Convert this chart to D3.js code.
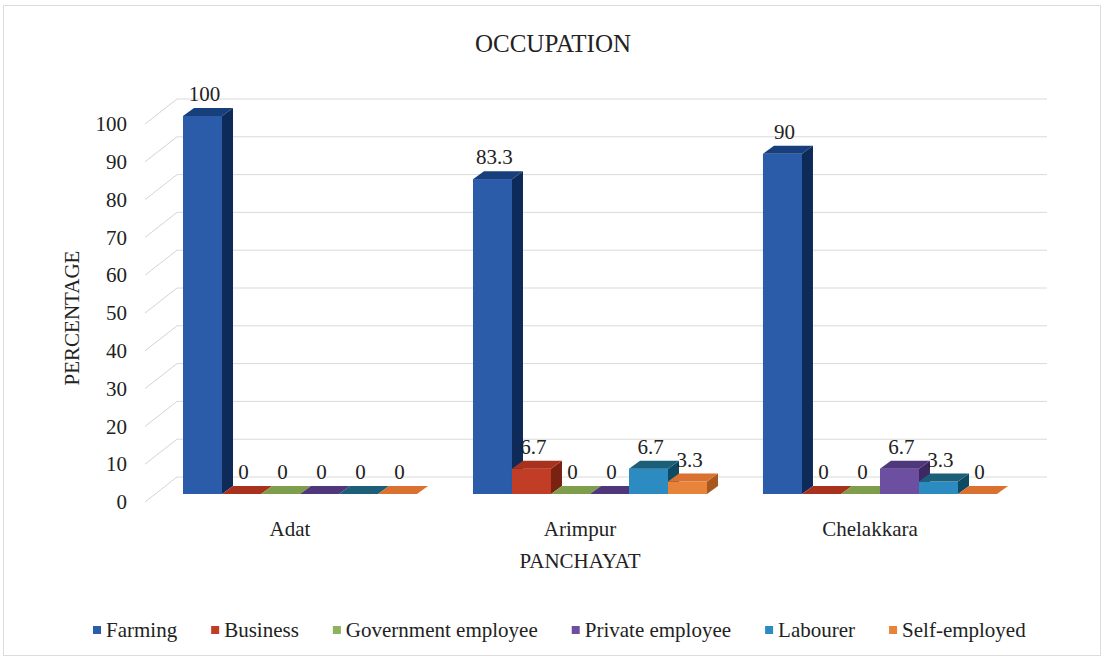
<!DOCTYPE html>
<html>
<head>
<meta charset="utf-8">
<script src="https://cdn.jsdelivr.net/npm/d3@7/dist/d3.min.js"></script>
<style>
  html, body { margin: 0; padding: 0; background: #ffffff; }
  svg { display: block; }
  svg text { font-family: "Liberation Serif", "Times New Roman", Tinos, "DejaVu Serif", serif; fill: #222; }
</style>
</head>
<body>
<svg id="chart" width="1104" height="661"></svg>
<script>
// Occupation shares (%) by panchayat
const categories = ["Adat", "Arimpur", "Chelakkara"];
const seriesNames = ["Farming", "Business", "Government employee", "Private employee", "Labourer", "Self-employed"];
const farming = [100, 83.3, 90];
const business = [0, 6.7, 0];
const government = [0, 0, 0];
const privateEmployee = [0, 0, 6.7];
const labourer = [0, 6.7, 3.3];
const selfEmployed = [0, 3.3, 0];
const yTicks = [0, 10, 20, 30, 40, 50, 60, 70, 80, 90, 100];

const seriesValues = [farming, business, government, privateEmployee, labourer, selfEmployed];

const FONT = "'Liberation Serif', 'Times New Roman', Tinos, 'DejaVu Serif', serif";

// front, side and top face shades for each series
const faceColors = [
  { front: "#2B5CA9", side: "#0E2A58", top: "#173F7C" },
  { front: "#C23D26", side: "#7A2212", top: "#A8321E" },
  { front: "#8FB15C", side: "#5C7837", top: "#7E9E4C" },
  { front: "#6C4FA1", side: "#3D2863", top: "#4F377C" },
  { front: "#2C8CC2", side: "#0E4B63", top: "#1B5F79" },
  { front: "#E8833A", side: "#A8581F", top: "#DA7130" }
];

const svg = d3.select("#chart").attr("font-family", FONT);
const W = 1104, H = 661;

// outer frame
svg.append("rect")
  .attr("x", 3.5).attr("y", 5.5).attr("width", W - 7).attr("height", H - 11)
  .attr("fill", "#ffffff").attr("stroke", "#dcdcdc").attr("stroke-width", 1);

// front plane scales
const x0 = d3.scaleBand().domain(categories).range([145, 1015])
  .paddingInner(0.193).paddingOuter(0.0966);
const x1 = d3.scaleBand().domain(seriesNames).range([0, x0.bandwidth()]).padding(0);
const y = d3.scaleLinear().domain([0, 100]).range([502, 124]);

// oblique projection offsets
const wall = { dx: 32, dy: -25 };      // depth of the back wall
const barOff = { dx: 10, dy: -8 };     // front face of the bars
const barDepth = { dx: 11, dy: -8 };   // thickness of each bar

// side wall diagonals and back wall gridlines
const grid = svg.append("g").attr("class", "grid");
grid.selectAll("line.diag").data(yTicks).join("line")
  .attr("class", "diag")
  .attr("x1", x0.range()[0]).attr("y1", d => y(d))
  .attr("x2", x0.range()[0] + wall.dx).attr("y2", d => y(d) + wall.dy)
  .attr("stroke", "#d4d4d4").attr("stroke-width", 1);
grid.selectAll("line.back").data(yTicks).join("line")
  .attr("class", "back")
  .attr("x1", x0.range()[0] + wall.dx).attr("y1", d => y(d) + wall.dy)
  .attr("x2", x0.range()[1] + wall.dx).attr("y2", d => y(d) + wall.dy)
  .attr("stroke", "#dadada").attr("stroke-width", 1);

// y axis tick labels
const yAxis = svg.append("g")
  .attr("transform", `translate(${x0.range()[0]},0)`)
  .call(d3.axisLeft(y).tickValues(yTicks).tickSize(0).tickPadding(18).tickFormat(d3.format("d")));
yAxis.attr("font-family", FONT).attr("font-size", 21);
yAxis.select(".domain").remove();
yAxis.selectAll("text").attr("fill", "#222");

// category labels
const xAxis = svg.append("g")
  .attr("transform", `translate(0,${y(0)})`)
  .call(d3.axisBottom(x0).tickSize(0).tickPadding(19));
xAxis.attr("font-family", FONT).attr("font-size", 21);
xAxis.select(".domain").remove();
xAxis.selectAll("text").attr("fill", "#222");

// bars, drawn left to right so later faces overlap earlier sides
const pts = a => a.map(p => p.join(",")).join(" ");
const bars = [];
categories.forEach((c, ci) => {
  seriesNames.forEach((s, si) => {
    bars.push({ cat: c, series: s, si, value: seriesValues[si][ci] });
  });
});

const barG = svg.append("g").attr("class", "bars");
bars.forEach(b => {
  const xl = x0(b.cat) + x1(b.series) + barOff.dx;
  const xr = xl + x1.bandwidth();
  const yb = y(0) + barOff.dy;
  const yt = y(b.value) + barOff.dy;
  const col = faceColors[b.si];
  const g = barG.append("g");
  // front
  g.append("rect")
    .attr("x", xl).attr("y", yt).attr("width", xr - xl).attr("height", yb - yt)
    .attr("fill", col.front);
  // side
  g.append("polygon")
    .attr("points", pts([[xr, yt], [xr + barDepth.dx, yt + barDepth.dy], [xr + barDepth.dx, yb + barDepth.dy], [xr, yb]]))
    .attr("fill", col.side);
  // top
  g.append("polygon")
    .attr("points", pts([[xl, yt], [xl + barDepth.dx, yt + barDepth.dy], [xr + barDepth.dx, yt + barDepth.dy], [xr, yt]]))
    .attr("fill", col.top);
});

// value labels
svg.append("g").selectAll("text").data(bars).join("text")
  .attr("x", d => x0(d.cat) + x1(d.series) + barOff.dx + x1.bandwidth() / 2 + 2)
  .attr("y", d => y(d.value) + barOff.dy + barDepth.dy - 7)
  .attr("text-anchor", "middle")
  .attr("font-size", 21)
  .text(d => d.value);

// titles
svg.append("text")
  .attr("x", 553).attr("y", 52)
  .attr("text-anchor", "middle").attr("font-size", 25)
  .text("OCCUPATION");

svg.append("text")
  .attr("x", (x0.range()[0] + x0.range()[1]) / 2).attr("y", 568)
  .attr("text-anchor", "middle").attr("font-size", 21)
  .text("PANCHAYAT");

svg.append("text")
  .attr("transform", `translate(79,${(y(0) + y(100)) / 2 + 5}) rotate(-90)`)
  .attr("text-anchor", "middle").attr("font-size", 21)
  .text("PERCENTAGE");

// legend
const legend = svg.append("g").attr("class", "legend");
let lx = 93;
seriesNames.forEach((name, i) => {
  legend.append("rect")
    .attr("x", lx).attr("y", 626).attr("width", 8).attr("height", 8)
    .attr("fill", faceColors[i].front);
  const t = legend.append("text")
    .attr("x", lx + 13).attr("y", 637)
    .attr("font-size", 21)
    .text(name);
  lx += 13 + t.node().getComputedTextLength() + 34;
});
</script>
</body>
</html>
